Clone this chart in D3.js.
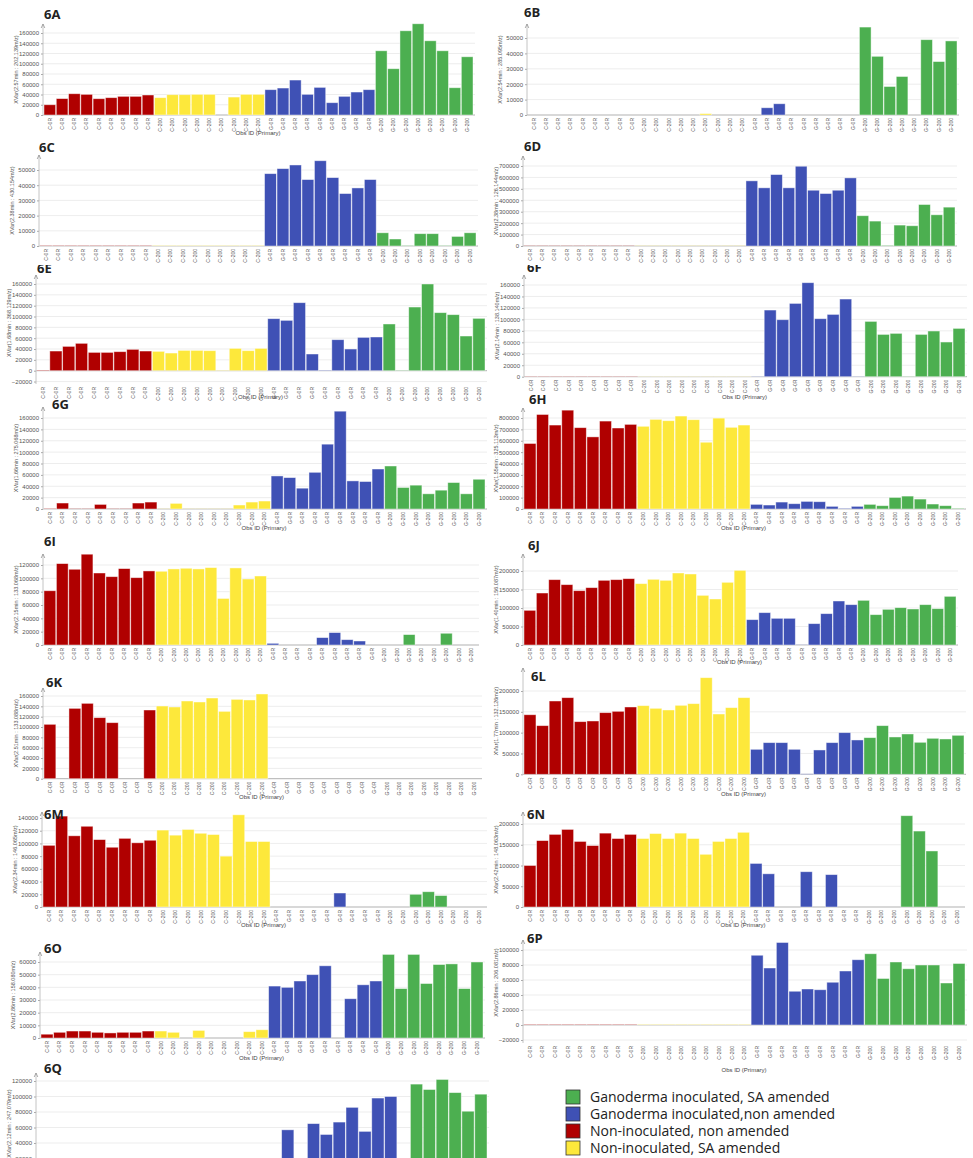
<!DOCTYPE html>
<html><head><meta charset="utf-8">
<script src="https://cdn.jsdelivr.net/npm/d3@7"></script>
<style>body{margin:0;background:#fff}svg{display:block}</style>
</head><body>
<svg id="fig" width="973" height="1158"></svg>
<script>
// Sample groups (x-axis codes) and their colours
const groupCodes = ["C-0R", "C-200", "G-0R", "G-200"];
const groupColors = ["#b00000", "#fde83b", "#3f51b5", "#4caf50"];

// Legend entries (top to bottom)
const legendLabels = ["Ganoderma inoculated, SA amended", "Ganoderma inoculated,non amended", "Non-inoculated, non amended", "Non-inoculated, SA amended"];
const legendColors = ["#4caf50", "#3f51b5", "#b00000", "#fde83b"];

// Y tick values
const ticks160k = [0, 20000, 40000, 60000, 80000, 100000, 120000, 140000, 160000];
const ticks50k = [0, 10000, 20000, 30000, 40000, 50000];
const ticks700k = [0, 100000, 200000, 300000, 400000, 500000, 600000, 700000];
const ticks160kNeg = [-20000, 0, 20000, 40000, 60000, 80000, 100000, 120000, 140000, 160000];
const ticks800k = [0, 100000, 200000, 300000, 400000, 500000, 600000, 700000, 800000];
const ticks120k = [0, 20000, 40000, 60000, 80000, 100000, 120000];
const ticks200k = [0, 50000, 100000, 150000, 200000];
const ticks140k = [0, 20000, 40000, 60000, 80000, 100000, 120000, 140000];
const ticks60k = [0, 10000, 20000, 30000, 40000, 50000, 60000];
const ticks100kNeg = [-20000, 0, 20000, 40000, 60000, 80000, 100000];

// Intensities per sample, grouped as [C-0R, C-200, G-0R, G-200]; null = no bar
const v6A = [
  [20000, 32000, 41500, 40300, 31800, 33800, 36400, 36400, 39000],
  [33800, 39600, 39600, 40300, 40300, null, 35000, 40300, 40300],
  [49400, 52600, 68200, 40300, 53900, 24000, 36400, 44800, 49400],
  [125300, 90300, 164300, 178000, 144800, 125300, 53200, 113600]
];
const v6B = [
  [null, null, null, null, null, null, null, null, null],
  [null, null, null, null, null, 900, null, null, null],
  [null, 4700, 7300, null, null, null, null, null, null],
  [57100, 38100, 18500, 25000, null, 48900, 34700, 48100]
];
const v6C = [
  [300, 300, 300, 300, 300, 300, 300, 300, 300],
  [300, 300, 300, 300, 300, 300, 300, 300, 300],
  [47600, 50900, 53300, 43700, 56100, 45000, 34500, 38200, 43700],
  [8700, 4600, 300, 8100, 8100, 300, 6300, 8700]
];
const v6D = [
  [2000, 2000, 2000, 2000, 2000, 2000, 2000, 2000, 2000],
  [2000, 2000, 2000, 2000, 2000, 2000, 2000, 2000, 2000],
  [570000, 509000, 625000, 509000, 698000, 488000, 459000, 488000, 596000],
  [265000, 218000, 5000, 183000, 177000, 363000, 273000, 340000]
];
const v6E = [
  [1200, 36300, 44900, 50500, 33800, 33800, 35100, 39400, 36300],
  [35700, 32600, 37500, 37500, 36900, 800, 41200, 36900, 41200],
  [96000, 92900, 125500, 30800, 1000, 57200, 40000, 61500, 62200],
  [86200, 800, 117500, 160000, 107100, 103400, 64000, 96600]
];
const v6F = [
  [600, 600, 600, 600, 600, 600, 600, 600, 600],
  [400, 400, 400, 400, 400, 400, 400, 400, 400],
  [500, 116300, 99400, 127900, 164000, 101200, 108700, 135500, 500],
  [96500, 73800, 75600, 500, 73800, 79700, 60500, 84300]
];
const v6G = [
  [800, 10500, 400, 400, 8100, 400, 400, 10500, 12200],
  [300, 9900, 300, 300, 300, 300, 7000, 12200, 14000],
  [58100, 55200, 36600, 64500, 114000, 172000, 49400, 48300, 70300],
  [75600, 37800, 41900, 26700, 33100, 46500, 26700, 52300]
];
const v6H = [
  [576000, 831000, 738000, 869000, 715000, 634000, 773000, 712000, 744000],
  [727000, 788000, 776000, 817000, 785000, 587000, 799000, 718000, 738000],
  [40700, 34900, 61000, 46500, 66900, 64000, 23300, 5800, 23300],
  [40700, 29100, 101700, 113400, 87200, 43600, 29100, 5800]
];
const v6I = [
  [81400, 122100, 113600, 136200, 108000, 102500, 114600, 101000, 111100],
  [110600, 114100, 115100, 114100, 116100, 69800, 115600, 99000, 103500],
  [2500, null, null, null, 11100, 18600, 8000, 6000, null],
  [null, null, 15600, null, null, 17600, null, null]
];
const v6J = [
  [93700, 140500, 176600, 163100, 146800, 155000, 174800, 176600, 179300],
  [165800, 177500, 174800, 194600, 191900, 134200, 124300, 169400, 201800],
  [68500, 87400, 72100, 72100, 500, 57700, 84700, 118900, 109000],
  [120700, 82000, 96400, 100900, 97300, 109000, 98200, 131500]
];
const v6K = [
  [105200, null, 136100, 145800, 118100, 108400, null, null, 132900],
  [140600, 138700, 150300, 148400, 156100, 130300, 153500, 152300, 163900],
  [null, null, null, null, null, null, null, null, null],
  [null, null, null, null, null, null, null, null]
];
const v6L = [
  [143000, 116800, 176000, 184000, 126400, 128000, 148000, 151200, 161600],
  [164800, 158400, 154400, 165600, 169600, 232000, 144800, 160000, 184000],
  [60000, 76000, 76000, 60000, 1000, 58400, 76000, 100000, 82400],
  [88000, 116800, 89600, 96800, 76800, 86400, 84800, 93600]
];
const v6M = [
  [97000, 143000, 112000, 127000, 106000, 94000, 108000, 101000, 105000],
  [121000, 113000, 122000, 116000, 114000, 80000, 145000, 103000, 103000],
  [null, null, null, null, null, 22000, null, null, null],
  [null, null, 20000, 24000, 18000, null, null, null]
];
const v6N = [
  [100000, 160000, 175000, 187000, 158000, 148000, 178000, 165000, 175000],
  [165000, 177000, 165000, 178000, 165000, 127000, 158000, 165000, 180000],
  [105000, 80000, null, null, 85000, null, 78000, null, null],
  [null, null, null, 220000, 183000, 135000, null, null]
];
const v6O = [
  [3000, 4500, 5500, 5500, 4500, 4000, 4500, 4500, 5500],
  [5500, 4500, null, 6000, null, null, null, 5000, 6500],
  [41000, 40000, 45000, 50000, 57000, null, 31000, 42000, 45000],
  [66000, 39000, 66000, 43000, 58000, 58500, 39000, 60000]
];
const v6P = [
  [700, 700, 700, 700, 700, 700, 700, 700, 700],
  [700, 700, 700, 700, 700, 700, 700, 700, 700],
  [93000, 76000, 110000, 45000, 48000, 47000, 57000, 72000, 87000],
  [95000, 62000, 84000, 75000, 80000, 80000, 56000, 82000]
];
const v6Q = [
  [null, null, null, null, null, null, null, null, null],
  [null, null, null, null, null, null, null, null, null],
  [null, 57000, null, 65000, 51000, 67000, 86000, 55000, 98000, 100000],
  [null, 116000, 109000, 122000, 105000, 81000, 103000]
];

// Panel placement: plot edges (px), y of 0 and of a reference value, axis top/bottom
const panels = [
  {name: "6A", values: v6A, ticks: ticks160k, yTitle: "XVar(2.57min : 202.139m/z)", left: 43, right: 473, zeroY: 115, refVal: 160000, refY: 33, top: 24, tx: 44, ty: 19, obsY: 135},
  {name: "6B", values: v6B, ticks: ticks50k, yTitle: "XVar(2.54min : 285.095m/z)", left: 527, right: 957, zeroY: 115, refVal: 50000, refY: 38, top: 24, tx: 524, ty: 17},
  {name: "6C", values: v6C, ticks: ticks50k, yTitle: "XVar(2.38min : 430.154m/z)", left: 39, right: 476, zeroY: 246, refVal: 50000, refY: 170, top: 155, tx: 39, ty: 152},
  {name: "6D", values: v6D, ticks: ticks700k, yTitle: "XVar(2.38min : 126.144m/z)", left: 523, right: 955, zeroY: 246, refVal: 700000, refY: 166, top: 156, tx: 524, ty: 151},
  {name: "6E", values: v6E, ticks: ticks160kNeg, yTitle: "XVar(1.68min : 368.129m/z)", left: 36, right: 485, zeroY: 370.7, refVal: 160000, refY: 284, top: 275, bottom: 384, tx: 37, ty: 273, clipTop: 265, obsY: 399},
  {name: "6F", values: v6F, ticks: ticks160k, yTitle: "XVar(2.14min : 138.140m/z)", left: 524, right: 965, zeroY: 376.7, refVal: 160000, refY: 285, top: 275, tx: 527, ty: 272, clipTop: 265, obsY: 399},
  {name: "6G", values: v6G, ticks: ticks160k, yTitle: "XVar(1.66min : 275.068m/z)", left: 43, right: 485, zeroY: 509, refVal: 160000, refY: 418, top: 407, tx: 52, ty: 409, obsY: 530},
  {name: "6H", values: v6H, ticks: ticks800k, yTitle: "XVar(1.55min : 325.113m/z)", left: 523, right: 964, zeroY: 509, refVal: 800000, refY: 418, top: 408, tx: 529, ty: 404, obsY: 530},
  {name: "6I", values: v6I, ticks: ticks120k, yTitle: "XVar(2.15min : 133.068m/z)", left: 43, right: 477, zeroY: 645, refVal: 120000, refY: 565, top: 554, tx: 44, ty: 546},
  {name: "6J", values: v6J, ticks: ticks200k, yTitle: "XVar(1.40min : 156.087m/z)", left: 523, right: 956, zeroY: 645, refVal: 200000, refY: 571, top: 554, tx: 528, ty: 550, obsY: 664},
  {name: "6K", values: v6K, ticks: ticks160k, yTitle: "XVar(2.51min : 133.088m/z)", left: 43, right: 480, zeroY: 778.7, refVal: 160000, refY: 696, top: 688, tx: 46, ty: 687, obsY: 799},
  {name: "6L", values: v6L, ticks: ticks200k, yTitle: "XVar(1.77min : 132.126m/z)", left: 523, right: 964, zeroY: 774.3, refVal: 200000, refY: 691, top: 668, tx: 531, ty: 681, obsY: 796},
  {name: "6M", values: v6M, ticks: ticks140k, yTitle: "XVar(2.34min : 146.065m/z)", left: 42, right: 485, zeroY: 907, refVal: 140000, refY: 818, top: 812, tx: 44, ty: 819, obsY: 927},
  {name: "6N", values: v6N, ticks: ticks200k, yTitle: "XVar(2.42min : 148.063m/z)", left: 523, right: 963, zeroY: 907, refVal: 200000, refY: 824, top: 812, tx: 527, ty: 819, obsY: 927},
  {name: "6O", values: v6O, ticks: ticks60k, yTitle: "XVar(2.86min : 158.080m/z)", left: 40, right: 483, zeroY: 1038, refVal: 60000, refY: 962, top: 952, tx: 44, ty: 953, obsY: 1060},
  {name: "6P", values: v6P, ticks: ticks100kNeg, yTitle: "XVar(2.86min : 206.081m/z)", left: 523, right: 965, zeroY: 1025, refVal: 100000, refY: 950, top: 940, bottom: 1043, tx: 527, ty: 943, obsY: 1072},
  {name: "6Q", values: v6Q, ticks: ticks120k, yTitle: "XVar(2.12min : 247.079m/z)", left: 36, right: 487, zeroY: 1174, refVal: 120000, refY: 1081, top: 1073, tx: 44, ty: 1073}
];

const svg = d3.select("#fig");
const smallFont = "'Liberation Sans', Arial, sans-serif";

panels.forEach(p => {
  const g = svg.append("g").attr("class", "panel");

  // flatten the four groups into one row of samples
  const samples = [];
  p.values.forEach((arr, gi) => arr.forEach(v => samples.push({group: gi, value: v})));

  const x = d3.scaleBand().domain(d3.range(samples.length))
    .range([p.left + 1, p.right]).paddingInner(0.05).paddingOuter(0);
  const y = d3.scaleLinear().domain([0, p.refVal]).range([p.zeroY, p.refY]);
  const bottom = p.bottom !== undefined ? p.bottom : p.zeroY;

  // horizontal gridlines
  g.append("g").selectAll("line").data(p.ticks).join("line")
    .attr("x1", p.left).attr("x2", p.right + 2)
    .attr("y1", d => y(d)).attr("y2", d => y(d))
    .attr("stroke", d => d === 0 ? "#a8a8a8" : "#e9e9e9")
    .attr("stroke-width", d => d === 0 ? 0.9 : 0.8);

  // y axis with tiny ticks and labels
  const yAxis = d3.axisLeft(y).tickValues(p.ticks).tickSize(2).tickPadding(2).tickFormat(d3.format("d"));
  const ax = g.append("g").attr("transform", `translate(${p.left},0)`).call(yAxis);
  ax.select(".domain").remove();
  ax.selectAll(".tick line").attr("stroke", "#aaa");
  ax.selectAll(".tick text").attr("font-family", smallFont).attr("font-size", 6).attr("fill", "#555");
  g.append("line").attr("x1", p.left).attr("x2", p.left).attr("y1", p.top).attr("y2", bottom)
    .attr("stroke", "#b5b5b5").attr("stroke-width", 0.8);
  g.append("path").attr("d", `M${p.left - 1.8},${p.top + 4} L${p.left},${p.top} L${p.left + 1.8},${p.top + 4}`)
    .attr("fill", "none").attr("stroke", "#888").attr("stroke-width", 0.7);

  // y axis title
  g.append("text")
    .attr("transform", `translate(${p.left - 25},${(p.top + p.zeroY) / 2}) rotate(-90)`)
    .attr("text-anchor", "middle").attr("font-family", smallFont).attr("font-size", 5.5).attr("fill", "#555")
    .text(p.yTitle);

  // bars
  g.append("g").selectAll("rect").data(samples.map((s, i) => ({...s, i})).filter(s => s.value !== null))
    .join("rect")
    .attr("x", d => x(d.i)).attr("width", x.bandwidth())
    .attr("y", d => Math.min(y(d.value), y(0)))
    .attr("height", d => Math.abs(y(0) - y(d.value)))
    .attr("fill", d => groupColors[d.group])
    .attr("stroke", "rgba(255,255,255,0.55)").attr("stroke-width", 0.8);

  // x tick labels (sample codes), rotated
  g.append("g").selectAll("text").data(samples.map((s, i) => ({...s, i}))).join("text")
    .attr("transform", d => `translate(${x(d.i) + x.bandwidth() / 2 + 1.8},${bottom + 3}) rotate(-90)`)
    .attr("text-anchor", "end").attr("font-family", smallFont).attr("font-size", 5).attr("fill", "#555")
    .text(d => groupCodes[d.group]);

  // x axis title
  if (p.obsY) {
    g.append("text").attr("x", (p.left + p.right) / 2).attr("y", p.obsY)
      .attr("text-anchor", "middle").attr("font-family", smallFont).attr("font-size", 6).attr("fill", "#444")
      .text("Obs ID (Primary)");
  }

  // panel label
  const title = g.append("text").attr("x", p.tx).attr("y", p.ty)
    .attr("font-family", "'Open Sans', 'DejaVu Sans', sans-serif").attr("font-weight", 700)
    .attr("font-size", 13).attr("fill", "#222").text(p.name);
  if (p.clipTop !== undefined) {
    const cid = "clip" + p.name;
    svg.append("clipPath").attr("id", cid).append("rect")
      .attr("x", p.tx - 5).attr("y", p.clipTop).attr("width", 40).attr("height", 20);
    title.attr("clip-path", `url(#${cid})`);
  }
});

// legend
const legend = svg.append("g").attr("transform", "translate(566,1090)");
legendLabels.forEach((lab, i) => {
  legend.append("rect").attr("x", 0).attr("y", i * 17).attr("width", 14).attr("height", 14)
    .attr("fill", legendColors[i]).attr("stroke", "#333").attr("stroke-width", 0.8);
  legend.append("text").attr("x", 24).attr("y", i * 17 + 11.5)
    .attr("font-family", "'Open Sans', 'Noto Sans', sans-serif").attr("font-size", 14).attr("fill", "#222")
    .text(lab);
});
</script>
</body></html>
